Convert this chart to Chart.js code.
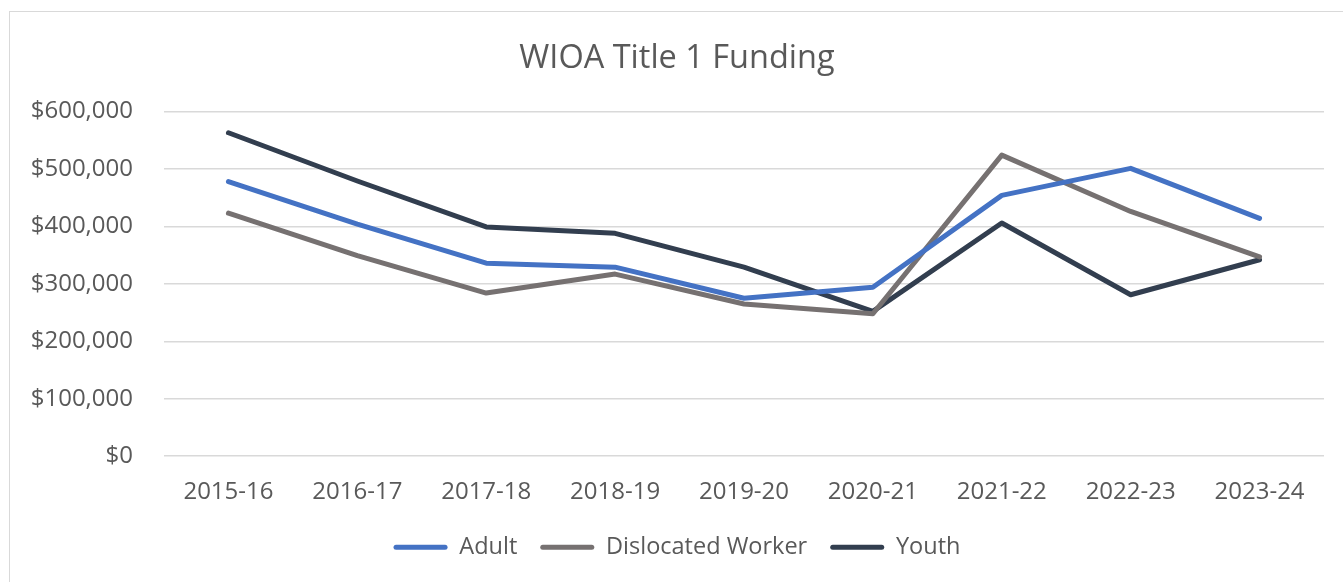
<!DOCTYPE html>
<html>
<head>
<meta charset="utf-8">
<script src="https://cdn.jsdelivr.net/npm/chart.js@4/dist/chart.umd.min.js"></script>
<style>
  body { margin: 0; background: #fff; overflow: hidden; }
  #box {
    position: absolute; left: 9px; top: 11px;
    width: 1400px; height: 600px;
    border: 1.5px solid #d9d9d9; box-sizing: border-box;
  }
  #wrap { position: absolute; left: 0; top: 0; width: 1324px; height: 557px; }
</style>
</head>
<body>
<div id="box"><div id="wrap"><canvas id="chart"></canvas></div></div>
<script>
var years = ["2015-16", "2016-17", "2017-18", "2018-19", "2019-20", "2020-21", "2021-22", "2022-23", "2023-24"];
var adult = [478000, 404000, 336000, 329000, 275000, 294000, 454000, 501000, 414000];
var dislocated = [423000, 349000, 284000, 317000, 265000, 248000, 524000, 426000, 347000];
var youth = [563000, 479000, 399000, 388000, 329000, 252000, 406000, 281000, 342000];

var textColor = '#595959';
var font = "'Open Sans', sans-serif";

function line(label, data, color) {
    return {
        label: label,
        data: data,
        borderColor: color,
        backgroundColor: color,
        borderWidth: 5,
        pointRadius: 0,
        tension: 0,
        borderCapStyle: 'round',
        borderJoinStyle: 'round'
    };
}

var lineChart = new Chart(document.getElementById('chart'), {
    type: 'line',
    data: {
        labels: years,
        datasets: [
            line('Adult', adult, '#4472C4'),
            line('Dislocated Worker', dislocated, '#767171'),
            line('Youth', youth, '#323E4F')
        ]
    },
    options: {
        responsive: true,
        maintainAspectRatio: false,
        animation: false,
        layout: { padding: { left: 20, right: 10, top: 18, bottom: 0 } },
        plugins: {
            title: {
                display: true,
                text: 'WIOA Title 1 Funding',
                color: textColor,
                font: { family: font, size: 32.5, weight: 'normal' },
                padding: { top: 9, bottom: 33.5 }
            },
            legend: {
                position: 'bottom',
                labels: {
                    color: textColor,
                    font: { family: font, size: 23.5 },
                    boxWidth: 54,
                    boxHeight: 5,
                    padding: 23,
                    useBorderRadius: true,
                    borderRadius: 2.5,
                    generateLabels: function(chart) {
                        var items = Chart.defaults.plugins.legend.labels.generateLabels(chart);
                        items.forEach(function(it) { it.lineWidth = 0; });
                        return items;
                    }
                }
            },
            tooltip: { enabled: false }
        },
        scales: {
            x: {
                offset: true,
                // pull the legend a little closer to the year labels
                afterFit: function(scale) { scale.height -= 8.5; },
                grid: { display: false },
                border: { display: false },
                ticks: { color: textColor, font: { family: font, size: 24 }, padding: 14, maxRotation: 0 }
            },
            y: {
                min: 0,
                max: 600000,
                afterFit: function(scale) { scale.width = 134; },
                grid: { color: '#d9d9d9', lineWidth: 1.5, drawTicks: false },
                border: { display: false },
                ticks: {
                    stepSize: 100000,
                    color: textColor,
                    font: { family: font, size: 24 },
                    padding: 31,
                    callback: function(v) { return '$' + v.toLocaleString('en-US'); }
                }
            }
        }
    }
});
</script>
</body>
</html>
